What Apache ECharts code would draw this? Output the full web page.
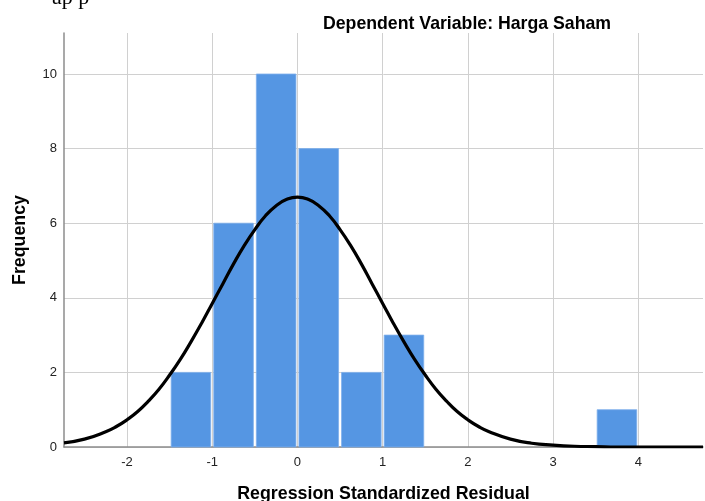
<!DOCTYPE html>
<html><head><meta charset="utf-8">
<script src="https://cdn.jsdelivr.net/npm/echarts@6/dist/echarts.min.js"></script>
<style>html,body{margin:0;padding:0;background:#fff}#c{width:705px;height:501px}</style>
</head><body><div id="c"></div>
<script>
// histogram bins (lower edge, upper edge) and frequencies
var binLower = [-1.5, -1.0, -0.5, 0.0, 0.5, 1.0, 3.5];
var binUpper = [-1.0, -0.5, 0.0, 0.5, 1.0, 1.5, 4.0];
var frequency = [2, 6, 10, 8, 2, 3, 1];
// normal curve
var curveX = [-2.74, -2.5, -2.25, -2.125, -2.0, -1.875, -1.75, -1.625, -1.5, -1.375, -1.25, -1.125, -1.0, -0.875, -0.75, -0.625, -0.5, -0.375, -0.25, -0.125, 0.0, 0.125, 0.25, 0.375, 0.5, 0.625, 0.75, 0.875, 1.0, 1.125, 1.25, 1.375, 1.5, 1.625, 1.75, 1.875, 2.0, 2.125, 2.25, 2.5, 2.75, 3.0, 3.25, 3.5, 3.75, 4.0, 4.25, 4.5, 4.76];
var curveY = [0.11, 0.21, 0.41, 0.55, 0.73, 0.95, 1.23, 1.55, 1.93, 2.35, 2.82, 3.32, 3.85, 4.38, 4.91, 5.40, 5.83, 6.20, 6.47, 6.64, 6.70, 6.64, 6.47, 6.20, 5.83, 5.40, 4.91, 4.38, 3.85, 3.32, 2.82, 2.35, 1.93, 1.55, 1.23, 0.95, 0.73, 0.55, 0.41, 0.21, 0.10, 0.05, 0.02, 0.01, 0.0, 0.0, 0.0, 0.0, 0.0];
var xTicks = [-2, -1, 0, 1, 2, 3, 4];
var yTicks = [0, 2, 4, 6, 8, 10];

var histData = binLower.map(function (l, i) { return [l, binUpper[i], frequency[i]]; });
var curveData = curveX.map(function (x, i) { return [x, curveY[i]]; });

var chart = echarts.init(document.getElementById('c'), null, {renderer: 'canvas'});
var font = '"Liberation Sans", Arial, sans-serif';
chart.setOption({
  animation: false,
  textStyle: {fontFamily: font},
  title: {
    text: 'Dependent Variable: Harga Saham',
    left: 318, top: 10,
    textStyle: {fontFamily: font, fontSize: 17.7, fontWeight: 'bold', color: '#000'}
  },
  graphic: [{
    type: 'text', left: 52, top: -13,
    style: {text: 'ap p', font: '22px "Liberation Serif", serif', fill: '#000'}
  }],
  grid: {left: 64, right: 2, top: 33, bottom: 54, containLabel: false, outerBoundsMode: 'none'},
  xAxis: {
    type: 'value', min: -2.74, max: 4.76,
    name: 'Regression Standardized Residual', nameLocation: 'middle', nameGap: 38,
    nameTextStyle: {fontFamily: font, fontSize: 17.8, fontWeight: 'bold', color: '#000'},
    axisLine: {show: true, onZero: false, lineStyle: {color: '#8c8c8c', width: 1.5}},
    axisTick: {show: false, customValues: xTicks},
    axisLabel: {customValues: xTicks, color: '#222', fontSize: 13, margin: 9, fontFamily: font},
    splitLine: {show: true, lineStyle: {color: '#d0d0d0', width: 1}}
  },
  yAxis: {
    type: 'value', min: 0, max: 11.1,
    name: 'Frequency', nameLocation: 'middle', nameGap: 35, nameRotate: 90,
    nameTextStyle: {fontFamily: font, fontSize: 17.8, fontWeight: 'bold', color: '#000'},
    axisLine: {show: true, onZero: false, lineStyle: {color: '#8c8c8c', width: 1.5}},
    axisTick: {show: false, customValues: yTicks},
    axisLabel: {customValues: yTicks, color: '#222', fontSize: 13, margin: 7, fontFamily: font},
    splitLine: {show: true, lineStyle: {color: '#d0d0d0', width: 1}}
  },
  series: [{
    type: 'custom',
    data: histData,
    encode: {x: [0, 1], y: 2},
    renderItem: function (params, api) {
      var p0 = api.coord([api.value(0), 0]);
      var p1 = api.coord([api.value(1), api.value(2)]);
      return {
        type: 'rect',
        shape: {x: p0[0] + 1.5, y: p1[1], width: p1[0] - p0[0] - 3, height: p0[1] - p1[1]},
        style: {fill: '#5596e3', stroke: '#7fb0ec', lineWidth: 0.8}
      };
    },
    z: 2
  }, {
    type: 'line',
    data: curveData,
    smooth: true,
    symbol: 'none',
    lineStyle: {color: '#000', width: 3.2},
    z: 5
  }]
});
</script></body></html>
